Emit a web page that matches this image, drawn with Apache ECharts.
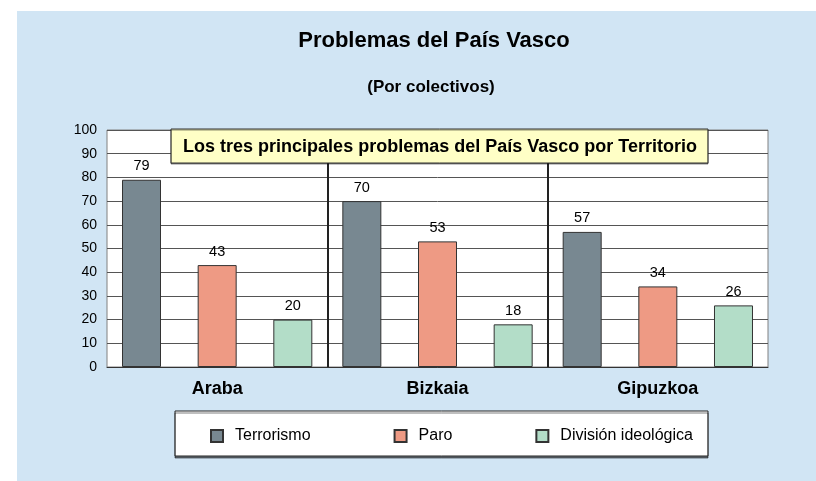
<!DOCTYPE html>
<html>
<head>
<meta charset="utf-8">
<title>Problemas del País Vasco</title>
<script src="https://cdn.jsdelivr.net/npm/echarts@6/dist/echarts.min.js"></script>
<style>
  html, body { margin: 0; padding: 0; background: #ffffff; }
  #chart { width: 816px; height: 481px; }
</style>
</head>
<body>
<div id="chart"></div>
<script>
// Territories (categories) and the share naming each problem
const territorios = ['Araba', 'Bizkaia', 'Gipuzkoa'];
const serieNombres = ['Terrorismo', 'Paro', 'División ideológica'];
const terrorismo = [79, 70, 57];
const paro = [43, 53, 34];
const division = [20, 18, 26];

const FONT = 'Arial, "Liberation Sans", Helvetica, sans-serif';
const colores = ['#788891', '#EE9A84', '#B3DDC8'];

const chart = echarts.init(document.getElementById('chart'), null, { renderer: 'canvas' });

function barSeries(name, values, color) {
  return {
    name: name,
    type: 'bar',
    data: values,
    barWidth: 39,
    barGap: '94%',
    itemStyle: { color: color, borderColor: '#333333', borderWidth: 1 },
    label: {
      show: true,
      position: 'top',
      distance: 6,
      color: '#000',
      fontFamily: FONT,
      fontSize: 14.5
    }
  };
}

const option = {
  animation: false,
  backgroundColor: '#ffffff',
  graphic: [
    // light blue panel behind the whole chart
    { type: 'rect', z: -10, shape: { x: 17, y: 11, width: 799, height: 470 },
      style: { fill: '#D1E5F4' } },
    { type: 'text', z: 10, x: 434, y: 41,
      style: { text: 'Problemas del País Vasco', fill: '#000', font: 'bold 22px ' + FONT,
               textAlign: 'center', textVerticalAlign: 'middle' } },
    { type: 'text', z: 10, x: 431, y: 87,
      style: { text: '(Por colectivos)', fill: '#000', font: 'bold 17px ' + FONT,
               textAlign: 'center', textVerticalAlign: 'middle' } },
    // caption box over the top of the plot
    { type: 'rect', z: 100, shape: { x: 171, y: 129, width: 537, height: 34 },
      style: { fill: '#FFFFC6', stroke: '#333333', lineWidth: 1,
               shadowColor: 'rgba(0,0,0,0.45)', shadowOffsetX: 0, shadowOffsetY: 1, shadowBlur: 0 } },
    { type: 'text', z: 101, x: 440, y: 147,
      style: { text: 'Los tres principales problemas del País Vasco por Territorio', fill: '#000',
               font: 'bold 18px ' + FONT, textAlign: 'center', textVerticalAlign: 'middle' } },
    // legend frame
    { type: 'rect', z: 5, shape: { x: 175, y: 411, width: 533, height: 45 },
      style: { fill: '#ffffff', stroke: '#222222', lineWidth: 1,
               shadowColor: 'rgba(0,0,0,0.5)', shadowOffsetX: 0, shadowOffsetY: 2, shadowBlur: 0 } }
  ],
  legend: {
    z: 20,
    left: 210,
    top: 428,
    padding: 0,
    itemWidth: 12,
    itemHeight: 12,
    itemGap: 83,
    icon: 'rect',
    data: serieNombres,
    textStyle: { fontFamily: FONT, fontSize: 16, color: '#000', padding: [0, 0, 0, 7] }
  },
  grid: {
    left: 107,
    right: 48,
    top: 130,
    bottom: 114,
    show: true,
    backgroundColor: '#ffffff',
    borderColor: '#808080',
    borderWidth: 1
  },
  xAxis: {
    type: 'category',
    data: territorios,
    axisLine: { show: true, lineStyle: { color: '#333333', width: 1 } },
    axisTick: { show: false },
    splitLine: {
      show: true,
      showMinLine: false,
      showMaxLine: false,
      lineStyle: { color: '#222222', width: 2 }
    },
    axisLabel: {
      color: '#000',
      fontFamily: FONT,
      fontSize: 18,
      fontWeight: 'bold',
      margin: 13
    }
  },
  yAxis: {
    type: 'value',
    min: 0,
    max: 100,
    interval: 10,
    axisLine: { show: false },
    axisTick: { show: false },
    splitLine: { show: true, lineStyle: { color: '#555555', width: 1 } },
    axisLabel: { color: '#000', fontFamily: FONT, fontSize: 14, margin: 10 }
  },
  series: [
    barSeries(serieNombres[0], terrorismo, colores[0]),
    barSeries(serieNombres[1], paro, colores[1]),
    barSeries(serieNombres[2], division, colores[2])
  ]
};

chart.setOption(option);
</script>
</body>
</html>
